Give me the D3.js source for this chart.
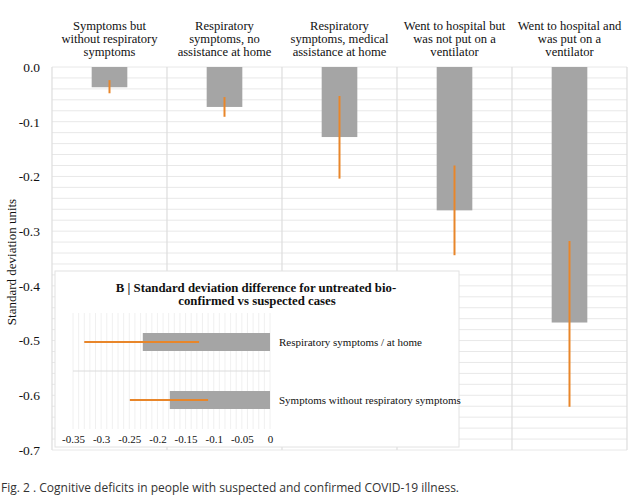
<!DOCTYPE html>
<html><head><meta charset="utf-8">
<script src="https://cdn.jsdelivr.net/npm/d3@7"></script>
<style>
body{margin:0;background:#fff}svg{display:block}
</style>
</head><body>
<script>
// ---- data ----
const categories = [
  ["Symptoms but", "without respiratory", "symptoms"],
  ["Respiratory", "symptoms, no", "assistance at home"],
  ["Respiratory", "symptoms, medical", "assistance at home"],
  ["Went to hospital but", "was not put on a", "ventilator"],
  ["Went to hospital and", "was put on a", "ventilator"]
];
const values = [-0.037, -0.073, -0.128, -0.262, -0.467];
const errLow = [-0.048, -0.091, -0.204, -0.344, -0.621];
const errHigh = [-0.024, -0.055, -0.053, -0.180, -0.318];
const yTicks = [0, -0.1, -0.2, -0.3, -0.4, -0.5, -0.6, -0.7];
const yTickLabels = ["0.0", "-0.1", "-0.2", "-0.3", "-0.4", "-0.5", "-0.6", "-0.7"];

const insetCats = ["Respiratory symptoms / at home", "Symptoms without respiratory symptoms"];
const insetValues = [-0.226, -0.178];
const insetErrLow = [-0.330, -0.249];
const insetErrHigh = [-0.126, -0.110];
const insetTicks = [-0.35, -0.3, -0.25, -0.2, -0.15, -0.1, -0.05, 0];
const insetTickLabels = ["-0.35", "-0.3", "-0.25", "-0.2", "-0.15", "-0.1", "-0.05", "0"];

const W = 634, H = 500;
const BAR = "#a5a5a5", ERR = "#e8862a", GRID = "#e8e8e8";
const SERIF = '"Liberation Serif", "DejaVu Serif", serif';

const svg = d3.select("body").append("svg").attr("width", W).attr("height", H);

// ---- main chart ----
const x = d3.scaleBand().domain(d3.range(categories.length)).range([52, 627]);
const y = d3.scaleLinear().domain([0, -0.7]).range([67, 450]);

const gridVals = d3.range(0, 36).map(i => -i * 0.02);
svg.append("g").selectAll("line").data(gridVals).join("line")
  .attr("x1", 52).attr("x2", 627)
  .attr("y1", d => y(d)).attr("y2", d => y(d))
  .attr("stroke", GRID).attr("stroke-width", 1);
const seps = d3.range(categories.length + 1);
svg.append("g").selectAll("line").data(seps).join("line")
  .attr("x1", d => d < categories.length ? x(d) : x.range()[1])
  .attr("x2", d => d < categories.length ? x(d) : x.range()[1])
  .attr("y1", y(0)).attr("y2", y(-0.7))
  .attr("stroke", "#dddddd").attr("stroke-width", 1.2);

const bw = x.bandwidth() * 0.31;
svg.append("g").selectAll("rect").data(values).join("rect")
  .attr("x", (d, i) => x(i) + x.bandwidth() / 2 - bw / 2)
  .attr("width", bw)
  .attr("y", y(0))
  .attr("height", d => y(d) - y(0))
  .attr("fill", BAR);
svg.append("g").selectAll("line").data(values).join("line")
  .attr("x1", (d, i) => x(i) + x.bandwidth() / 2)
  .attr("x2", (d, i) => x(i) + x.bandwidth() / 2)
  .attr("y1", (d, i) => y(errHigh[i]))
  .attr("y2", (d, i) => y(errLow[i]))
  .attr("stroke", ERR).attr("stroke-width", 2);

const hdr = svg.append("g").attr("text-anchor", "middle");
categories.forEach((lines, i) => {
  lines.forEach((t, j) => {
    hdr.append("text").attr("x", x(i) + x.bandwidth() / 2).attr("y", 29.5 + j * 13.3)
      .style("font-family", SERIF).style("font-size", "12.6px").attr("fill", "#111").text(t);
  });
});

const yAxis = d3.axisLeft(y).tickValues(yTicks).tickSize(0).tickFormat((d, i) => yTickLabels[i]);
const ya = svg.append("g").attr("transform", "translate(43,0)").call(yAxis);
ya.select(".domain").remove();
ya.selectAll("text").style("font-family", SERIF).style("font-size", "13.5px").attr("fill", "#111");

svg.append("text").attr("transform", "translate(16,262) rotate(-90)")
  .attr("text-anchor", "middle").style("font-family", SERIF).style("font-size", "13px").attr("fill", "#111")
  .text("Standard deviation units");

// ---- inset ----
svg.append("rect").attr("x", 55).attr("y", 271).attr("width", 404).attr("height", 176)
  .attr("fill", "#fff").attr("stroke", "#e2e2e2").attr("stroke-width", 1);

const ix = d3.scaleLinear().domain([-0.35, 0]).range([73, 270]);
const iy = d3.scaleBand().domain(insetCats).range([313, 429]);

const ig = svg.append("g");
const vGrid = d3.range(0, 36).map(i => -i * 0.01);
ig.append("g").selectAll("line").data(vGrid).join("line")
  .attr("x1", d => ix(d)).attr("x2", d => ix(d))
  .attr("y1", 313).attr("y2", 429)
  .attr("stroke", "#ececec").attr("stroke-width", 0.8);
ig.append("line").attr("x1", ix(-0.35)).attr("x2", ix(0))
  .attr("y1", iy(insetCats[1])).attr("y2", iy(insetCats[1]))
  .attr("stroke", "#dcdcdc").attr("stroke-width", 1);

const ibh = iy.bandwidth() * 0.31;
ig.append("g").selectAll("rect").data(insetValues).join("rect")
  .attr("x", d => ix(d)).attr("width", d => ix(0) - ix(d))
  .attr("y", (d, i) => iy(insetCats[i]) + iy.bandwidth() / 2 - ibh / 2)
  .attr("height", ibh).attr("fill", BAR);
ig.append("g").selectAll("line").data(insetValues).join("line")
  .attr("x1", (d, i) => ix(insetErrLow[i])).attr("x2", (d, i) => ix(insetErrHigh[i]))
  .attr("y1", (d, i) => iy(insetCats[i]) + iy.bandwidth() / 2)
  .attr("y2", (d, i) => iy(insetCats[i]) + iy.bandwidth() / 2)
  .attr("stroke", ERR).attr("stroke-width", 2);

ig.append("g").selectAll("text").data(insetCats).join("text")
  .attr("x", 279).attr("y", d => iy(d) + iy.bandwidth() / 2).attr("dy", "0.35em")
  .style("font-family", SERIF).style("font-size", "11px").attr("fill", "#111")
  .text(d => d);

const xAxis = d3.axisBottom(ix).tickValues(insetTicks).tickSize(0).tickFormat((d, i) => insetTickLabels[i]);
const xa = ig.append("g").attr("transform", "translate(0,432)").call(xAxis);
xa.select(".domain").remove();
xa.selectAll("text").style("font-family", SERIF).style("font-size", "11px").attr("fill", "#111");

const tg = ig.append("g").attr("text-anchor", "middle");
[["B | Standard deviation difference for untreated bio-", 256, 292],
 ["confirmed vs suspected cases", 257, 305]].forEach(([t, tx, ty]) => {
  tg.append("text").attr("x", tx).attr("y", ty)
    .style("font-family", SERIF).style("font-size", "12.8px").style("font-weight", "bold")
    .attr("fill", "#111").text(t);
});

svg.append("text").attr("x", 1).attr("y", 492)
  .style("font-family", '"Open Sans", sans-serif').style("font-size", "12px").attr("fill", "#333")
  .text("Fig. 2 . Cognitive deficits in people with suspected and confirmed COVID-19 illness.");
</script>
</body></html>
